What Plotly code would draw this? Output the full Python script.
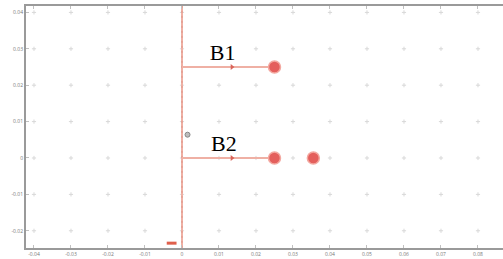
import plotly.graph_objects as go

# Tick values / labels
x_ticks = [-0.04, -0.03, -0.02, -0.01, 0, 0.01, 0.02, 0.03, 0.04, 0.05, 0.06, 0.07, 0.08]
x_tick_labels = ["-0.04", "-0.03", "-0.02", "-0.01", "0", "0.01", "0.02", "0.03", "0.04", "0.05", "0.06", "0.07", "0.08"]
y_ticks = [-0.02, -0.01, 0, 0.01, 0.02, 0.03, 0.04]
y_tick_labels = ["-0.02", "-0.01", "0", "0.01", "0.02", "0.03", "0.04"]

# Vertical base line at x = 0
base_x = [0, 0]
base_y = [-0.0247, 0.0418]

# Branch B1 (horizontal line at y = 0.025)
b1_x = [0, 0.025]
b1_y = [0.025, 0.025]
b1_end_x = [0.025]
b1_end_y = [0.025]
b1_arrow_x = [0.0135]
b1_arrow_y = [0.025]

# Branch B2 (horizontal line at y = 0)
b2_x = [0, 0.025]
b2_y = [0, 0]
b2_end_x = [0.025, 0.0355]
b2_end_y = [0, 0]
b2_arrow_x = [0.0135]
b2_arrow_y = [0]

# Small extra markers
gray_pt_x = [0.0015]
gray_pt_y = [0.0064]
red_tick_x = [-0.0028]
red_tick_y = [-0.0234]

labels = ["B1", "B2"]
label_x = [0.011, 0.0113]
label_y = [0.0283, 0.0033]

fig = go.Figure()

# grid crosses at tick intersections
gx, gy = [], []
for xv in x_ticks:
    for yv in y_ticks:
        gx.append(xv)
        gy.append(yv)
fig.add_trace(go.Scatter(x=gx, y=gy, mode="markers",
                         marker=dict(symbol="cross-thin", size=3,
                                     line=dict(color="#d8d8d8", width=1)),
                         hoverinfo="skip", showlegend=False))

line_col = "#efb0a4"
fig.add_trace(go.Scatter(x=base_x, y=base_y, mode="lines",
                         line=dict(color=line_col, width=2), showlegend=False))
fig.add_trace(go.Scatter(x=base_x, y=base_y, mode="lines",
                         line=dict(color="#dc9488", width=1, dash="2px,3px"), showlegend=False))
fig.add_trace(go.Scatter(x=b1_x, y=b1_y, mode="lines",
                         line=dict(color=line_col, width=2), showlegend=False))
fig.add_trace(go.Scatter(x=b2_x, y=b2_y, mode="lines",
                         line=dict(color=line_col, width=2), showlegend=False))

fig.add_trace(go.Scatter(x=b1_arrow_x + b2_arrow_x, y=b1_arrow_y + b2_arrow_y, mode="markers",
                         marker=dict(symbol="triangle-right", size=5, color="#d9645a"),
                         showlegend=False))
fig.add_trace(go.Scatter(x=b1_end_x + b2_end_x, y=b1_end_y + b2_end_y, mode="markers",
                         marker=dict(symbol="circle", size=12, color="#e45f5c",
                                     line=dict(color="#f3a8a0", width=1.5)),
                         showlegend=False))
fig.add_trace(go.Scatter(x=gray_pt_x, y=gray_pt_y, mode="markers",
                         marker=dict(symbol="circle", size=5, color="#bdbdbd",
                                     line=dict(color="#888888", width=1)),
                         showlegend=False))
fig.add_trace(go.Scatter(x=red_tick_x, y=red_tick_y, mode="markers",
                         marker=dict(symbol="line-ew", size=7,
                                     line=dict(color="#e0604c", width=3)),
                         showlegend=False))
fig.add_trace(go.Scatter(x=label_x, y=label_y, mode="text", text=labels,
                         textfont=dict(family="Liberation Serif", size=22, color="black"),
                         showlegend=False))

fig.update_layout(
    width=503, height=259,
    margin=dict(l=26, r=0, t=6, b=11),
    paper_bgcolor="white", plot_bgcolor="white",
    xaxis=dict(range=[-0.04216, 0.08676], tickvals=x_ticks, ticktext=x_tick_labels,
               showgrid=False, zeroline=False, showline=True, linecolor="#9a9a9a",
               linewidth=2, mirror="ticks", ticks="inside", ticklen=3, tickcolor="#c0c0c0",
               tickfont=dict(size=5, color="#777777"), tickangle=0),
    yaxis=dict(range=[-0.02473, 0.04176], tickvals=y_ticks, ticktext=y_tick_labels,
               showgrid=False, zeroline=False, showline=True, linecolor="#9a9a9a",
               linewidth=2, mirror=False, ticks="inside", ticklen=3, tickcolor="#c0c0c0",
               tickfont=dict(size=5, color="#777777")),
)

fig.write_html("out.html", config={"displayModeBar": False},
               post_script="document.body.style.margin='0';document.body.style.padding='0';")
